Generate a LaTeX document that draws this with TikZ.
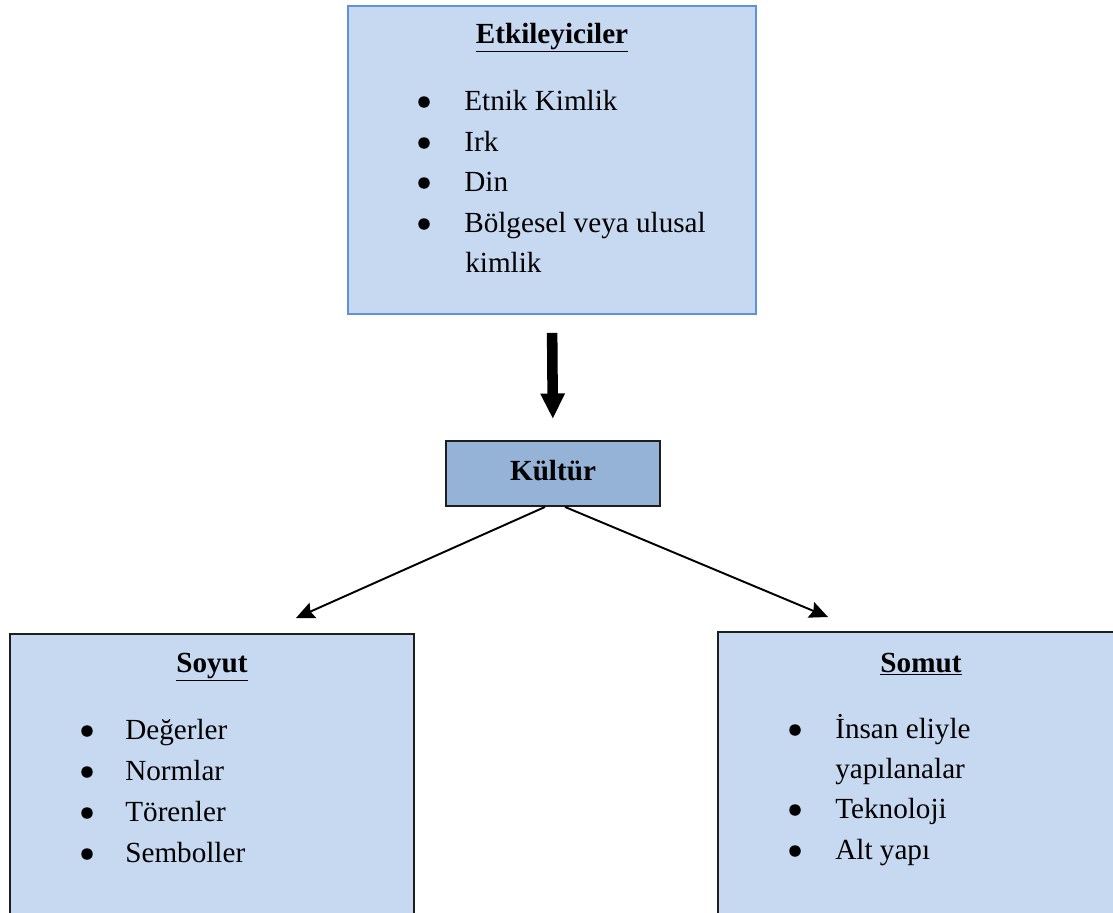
\documentclass[tikz,border=0pt]{standalone}
\usepackage{fontspec}
\setmainfont{Liberation Serif}
\usetikzlibrary{arrows.meta}
\definecolor{boxfill}{RGB}{198,217,241}
\definecolor{coreFill}{RGB}{149,179,215}
\definecolor{blueline}{RGB}{98,145,220}
\definecolor{darkline}{RGB}{30,30,30}
\newcommand{\txtsize}{\fontsize{16.6}{23}\selectfont}
\tikzset{
	panel/.style={draw=darkline, line width=1.1pt, fill=boxfill, inner sep=0pt},
	head/.style={anchor=base, inner sep=0pt, font=\txtsize\bfseries},
	bul/.style={circle, fill=black, inner sep=0pt, minimum size=0.23cm},
	itm/.style={anchor=base west, inner sep=0pt, font=\txtsize},
	thin/.style={line width=1.1pt, -{Stealth[length=10.5pt,width=9.5pt,inset=1.5pt]}},
	fat/.style={line width=6pt, -{Triangle[length=14.5pt,width=13pt]}}
}
\begin{document}
\begin{tikzpicture}[x=0.02cm, y=-0.02cm]
		%%%%% START %%%%%
		
		\useasboundingbox (0,0) rectangle (1113,913);
		\clip (0,0) rectangle (1113,913);
		
		% top box
		\node[panel, draw=blueline, minimum width=8.16cm, minimum height=6.16cm] (etki) at (552,160) {};
		\node[head] (etkiT) at (552,43) {\underline{Etkileyiciler}};
		\node[bul] (eb1) at (424,102) {};
		\node[itm] (et1) at (464,110) {Etnik Kimlik};
		\node[bul] (eb2) at (424,143) {};
		\node[itm] (et2) at (464,151) {Irk};
		\node[bul] (eb3) at (424,183) {};
		\node[itm] (et3) at (464,191) {Din};
		\node[bul] (eb4) at (424,224) {};
		\node[itm] (et4) at (464,232) {Bölgesel veya ulusal};
		\node[itm] (et5) at (465,272) {kimlik};
		
		% culture
		\node[panel, fill=coreFill, minimum width=4.28cm, minimum height=1.3cm] (kultur) at (553,473.5) {};
		\node[head] (kulturT) at (553,480) {Kültür};
		
		\draw[fat, shorten <=10.2pt, shorten >=12pt] (etki.south) -- (kultur.north);
		
		% abstract
		\node[panel, minimum width=8.08cm, minimum height=6.4cm] (soyut) at (212,794) {};
		\node[head] (soyutT) at (212,672) {\underline{Soyut}};
		\node[bul] (sb1) at (87,731) {};
		\node[itm] (st1) at (125,739) {Değerler};
		\node[bul] (sb2) at (87,772) {};
		\node[itm] (st2) at (125,780) {Normlar};
		\node[bul] (sb3) at (87,813) {};
		\node[itm] (st3) at (125,821) {Törenler};
		\node[bul] (sb4) at (87,854) {};
		\node[itm] (st4) at (125,862) {Semboller};
		
		% concrete
		\node[panel, minimum width=8.4cm, minimum height=6.4cm] (somut) at (928,792) {};
		\node[head] (somutT) at (921,672) {\underline{Somut}};
		\node[bul] (mb1) at (795,730) {};
		\node[itm] (mt1) at (835,738) {İnsan eliyle};
		\node[itm] (mt2) at (835,778) {yapılanalar};
		\node[bul] (mb3) at (795,810) {};
		\node[itm] (mt3) at (835,818) {Teknoloji};
		\node[bul] (mb4) at (795,851) {};
		\node[itm] (mt4) at (835,859) {Alt yapı};
		
		\coordinate (soyutIn) at (296,618);
		\coordinate (somutIn) at (828,617);
		\draw[thin] ([xshift=-0.16cm]kultur.south) -- (soyutIn);
		\draw[thin] ([xshift=0.24cm]kultur.south) -- (somutIn);
		
		%%%%% END %%%%%
	\end{tikzpicture}
\end{document}
